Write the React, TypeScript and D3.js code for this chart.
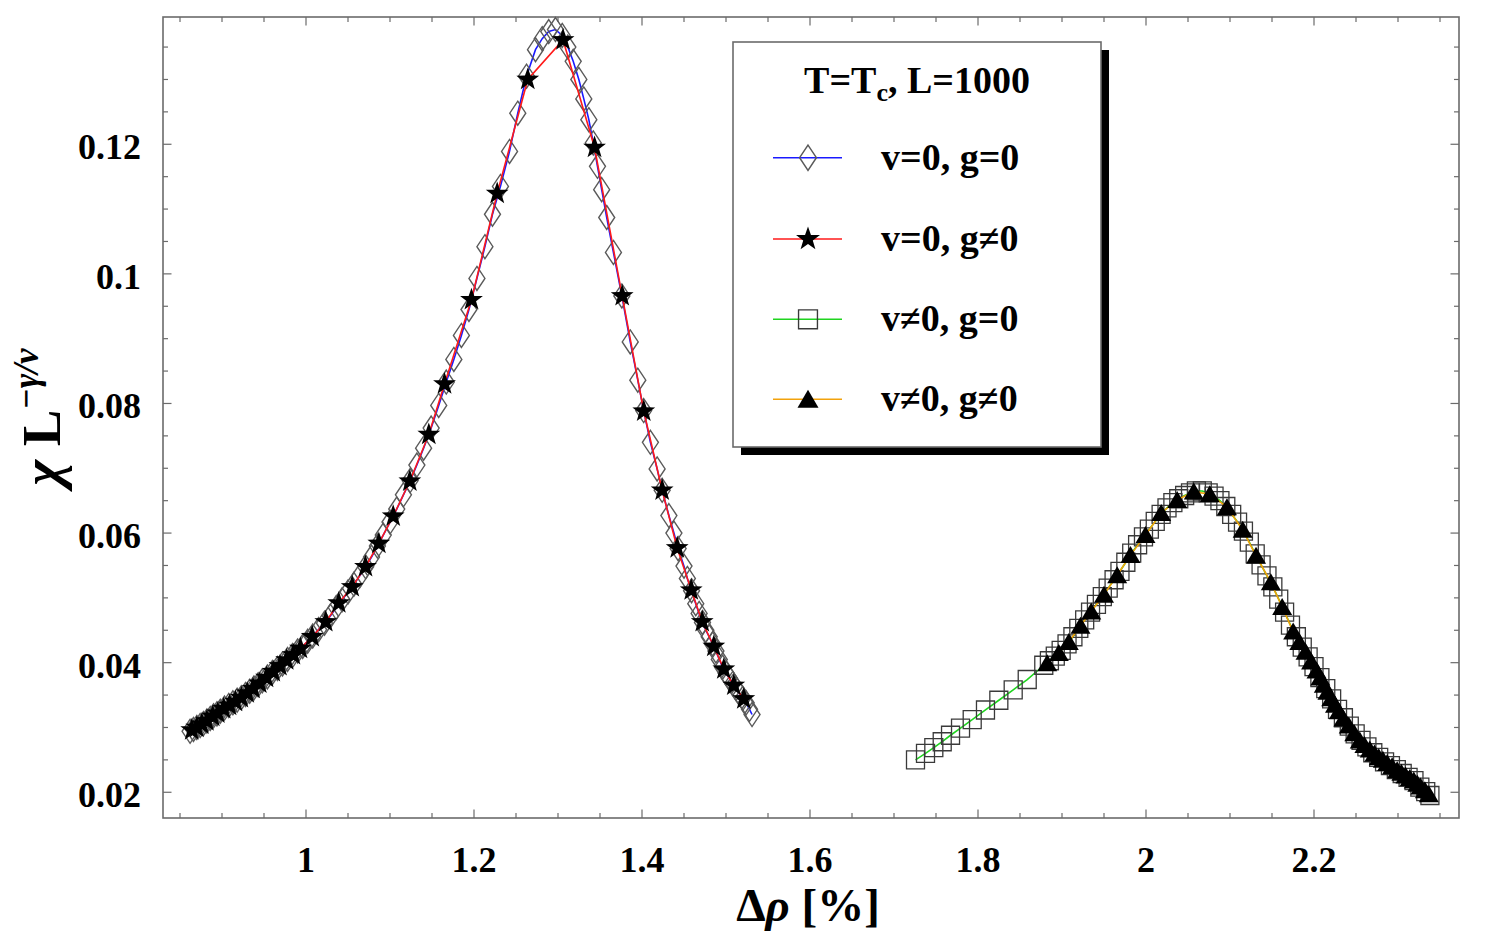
import React from 'react';
import * as d3 from 'd3';

const W = 1492;
const H = 935;
const plot = { left: 163, right: 1459, top: 17, bottom: 818 };
const FONT = '"Liberation Serif", "Times New Roman", serif';

// v=0, g=0 : open diamonds, blue line
const vZeroGZero: [number, number][] = [
  [0.862, 0.0294], [0.866, 0.0297], [0.870, 0.0300], [0.874, 0.0303], [0.878, 0.0306], [0.882, 0.0310],
  [0.886, 0.0314], [0.890, 0.0318], [0.894, 0.0321], [0.898, 0.0325], [0.903, 0.0330], [0.908, 0.0334],
  [0.913, 0.0338], [0.918, 0.0342], [0.923, 0.0346], [0.928, 0.0351], [0.933, 0.0356], [0.938, 0.0361],
  [0.943, 0.0366], [0.948, 0.0372], [0.954, 0.0378], [0.960, 0.0385], [0.966, 0.0391], [0.972, 0.0398],
  [0.978, 0.0405], [0.984, 0.0411], [0.990, 0.0418], [0.996, 0.0425], [1.002, 0.0433], [1.008, 0.0441],
  [1.015, 0.0451], [1.022, 0.0461], [1.029, 0.0472], [1.036, 0.0485], [1.043, 0.0497], [1.050, 0.0509],
  [1.057, 0.0521], [1.064, 0.0534], [1.071, 0.0548], [1.078, 0.0563], [1.085, 0.0580], [1.092, 0.0597],
  [1.100, 0.0617], [1.108, 0.0637], [1.116, 0.0659], [1.124, 0.0681], [1.132, 0.0705], [1.140, 0.0731],
  [1.149, 0.0762], [1.158, 0.0797], [1.167, 0.0833], [1.176, 0.0868], [1.185, 0.0905], [1.194, 0.0945],
  [1.2035, 0.0993], [1.213, 0.1042], [1.222, 0.1092], [1.2315, 0.1135], [1.2423, 0.1189], [1.2521, 0.1248],
  [1.2625, 0.1305], [1.2732, 0.1346], [1.2812, 0.1363], [1.289, 0.1374], [1.297, 0.1377], [1.305, 0.1368],
  [1.3117, 0.1350], [1.3181, 0.1328], [1.3248, 0.1300], [1.3307, 0.1270], [1.3367, 0.1238], [1.342, 0.1202],
  [1.347, 0.1166], [1.352, 0.1130], [1.358, 0.1087], [1.366, 0.1033], [1.376, 0.0966], [1.386, 0.0895],
  [1.395, 0.0836], [1.402, 0.0789], [1.410, 0.0740], [1.418, 0.0699], [1.424, 0.0666], [1.432, 0.0627],
  [1.438, 0.0600], [1.443, 0.0576], [1.450, 0.0549], [1.454, 0.0530], [1.459, 0.0511], [1.464, 0.0491],
  [1.468, 0.0476], [1.472, 0.0462], [1.476, 0.0450], [1.480, 0.0440], [1.484, 0.0429], [1.488, 0.0418],
  [1.492, 0.0405], [1.496, 0.0393], [1.500, 0.0384], [1.504, 0.0376], [1.508, 0.0368], [1.512, 0.0360],
  [1.516, 0.0352], [1.520, 0.0345], [1.524, 0.0338], [1.528, 0.0328], [1.531, 0.0320],
];

// v=0, g≠0 : filled stars, red line
const vZeroGNonZero: [number, number][] = [
  [0.864, 0.0296], [0.870, 0.0300], [0.876, 0.0305], [0.882, 0.0310], [0.889, 0.0317], [0.895, 0.0322],
  [0.902, 0.0329], [0.909, 0.0334], [0.916, 0.0340], [0.923, 0.0346], [0.930, 0.0353], [0.937, 0.0360],
  [0.945, 0.0368], [0.953, 0.0377], [0.961, 0.0386], [0.969, 0.0395], [0.977, 0.0404], [0.985, 0.0412],
  [0.9934, 0.0422], [1.0074, 0.0440], [1.0235, 0.0463], [1.039, 0.0492], [1.055, 0.0517], [1.0708, 0.0548],
  [1.0867, 0.0584], [1.1038, 0.0626], [1.1236, 0.0680], [1.1462, 0.0752], [1.1649, 0.0830], [1.197, 0.0960],
  [1.2276, 0.1124], [1.264, 0.1300], [1.306, 0.1361], [1.3435, 0.1195], [1.3764, 0.0966], [1.4021, 0.0788],
  [1.424, 0.0666], [1.4419, 0.0577], [1.4586, 0.0512], [1.4717, 0.0463], [1.4855, 0.0425], [1.4974, 0.0390],
  [1.5093, 0.0365], [1.5212, 0.0344],
];

// v≠0, g=0 : open squares, green line
const vNonZeroGZero: [number, number][] = [
  [1.7256, 0.0250], [1.7375, 0.0260], [1.7474, 0.0269], [1.7574, 0.0278], [1.7673, 0.0288], [1.7792, 0.0299],
  [1.7931, 0.0312], [1.8089, 0.0327], [1.8248, 0.0342], [1.8419, 0.0358], [1.8586, 0.0374], [1.8783, 0.0396],
  [1.885, 0.0403], [1.892, 0.0410], [1.899, 0.0419], [1.906, 0.0429], [1.913, 0.0440], [1.920, 0.0453],
  [1.927, 0.0466], [1.934, 0.0478], [1.941, 0.0490], [1.948, 0.0502], [1.955, 0.0515], [1.962, 0.0528],
  [1.969, 0.0541], [1.976, 0.0555], [1.983, 0.0569], [1.990, 0.0582], [1.997, 0.0594], [2.004, 0.0606],
  [2.011, 0.0618], [2.018, 0.0629], [2.025, 0.0639], [2.032, 0.0647], [2.039, 0.0653], [2.046, 0.0658],
  [2.053, 0.0662], [2.060, 0.0665], [2.067, 0.0665], [2.074, 0.0662], [2.081, 0.0657], [2.088, 0.0650],
  [2.095, 0.0641], [2.102, 0.0629], [2.109, 0.0617], [2.116, 0.0603], [2.123, 0.0586], [2.130, 0.0568],
  [2.137, 0.0551], [2.144, 0.0534], [2.151, 0.0517], [2.158, 0.0498], [2.165, 0.0478], [2.172, 0.0458],
  [2.179, 0.0440], [2.186, 0.0424], [2.193, 0.0409], [2.200, 0.0394], [2.207, 0.0377], [2.214, 0.0360],
  [2.221, 0.0344], [2.228, 0.0328], [2.235, 0.0315], [2.242, 0.0302], [2.249, 0.0290], [2.256, 0.0280],
  [2.263, 0.0270], [2.270, 0.0261], [2.277, 0.0254], [2.284, 0.0247], [2.291, 0.0241], [2.298, 0.0235],
  [2.305, 0.0229], [2.312, 0.0223], [2.319, 0.0218], [2.326, 0.0208], [2.333, 0.0201], [2.338, 0.0195],
];

// v≠0, g≠0 : filled triangles, orange line
const vNonZeroGNonZero: [number, number][] = [
  [1.8824, 0.0399], [1.8962, 0.0415], [1.9081, 0.0432], [1.9220, 0.0457], [1.9348, 0.0479], [1.9500, 0.0505],
  [1.9657, 0.0535], [1.9815, 0.0566], [1.9994, 0.0597], [2.0181, 0.0631], [2.0371, 0.0651], [2.0569, 0.0664],
  [2.0759, 0.0660], [2.0964, 0.0640], [2.1151, 0.0605], [2.1310, 0.0565], [2.1486, 0.0524], [2.1621, 0.0486],
  [2.1752, 0.0448], [2.1825, 0.0432], [2.1899, 0.0417], [2.1965, 0.0402], [2.2030, 0.0388], [2.2075, 0.0377],
  [2.2117, 0.0366], [2.2160, 0.0355], [2.2205, 0.0345], [2.2250, 0.0335], [2.2295, 0.0325], [2.2350, 0.0314],
  [2.2414, 0.0303], [2.2480, 0.0291], [2.2545, 0.0280], [2.2600, 0.0273], [2.2664, 0.0266], [2.2720, 0.0260],
  [2.2771, 0.0254], [2.2820, 0.0250], [2.2871, 0.0245], [2.2930, 0.0240], [2.2990, 0.0234], [2.3040, 0.0230],
  [2.3089, 0.0226], [2.3140, 0.0222], [2.3188, 0.0218], [2.3230, 0.0213], [2.3268, 0.0209], [2.3320, 0.0203],
  [2.3367, 0.0197],
];

const xTicks = [1, 1.2, 1.4, 1.6, 1.8, 2, 2.2];
const xTickLabels = ['1', '1.2', '1.4', '1.6', '1.8', '2', '2.2'];
const yTicks = [0.02, 0.04, 0.06, 0.08, 0.1, 0.12];
const yTickLabels = ['0.02', '0.04', '0.06', '0.08', '0.1', '0.12'];
const legendLabels = ['v=0, g=0', 'v=0, g≠0', 'v≠0, g=0', 'v≠0, g≠0'];
const lineColors = ['#1a1aff', '#ff1a1a', '#1fd41f', '#f2a20c'];

const xScale = d3.scaleLinear().domain([0.82976, 2.37262]).range([plot.left, plot.right]);
const yScale = d3.scaleLinear().domain([0.01603, 0.13964]).range([plot.bottom, plot.top]);

const line = d3.line<[number, number]>()
  .x(d => xScale(d[0]))
  .y(d => yScale(d[1]));

// marker shapes, centred on 0,0
const diamondPath = 'M0,-12L8,0L0,12L-8,0Z';
const squarePath = 'M-9,-9h18v18h-18Z';
const trianglePath = 'M0,-9L10,8L-10,8Z';
const starPath = (() => {
  const pts = d3.range(10).map(i => {
    const r = i % 2 === 0 ? 12 : 4.8;
    const a = -Math.PI / 2 + (i * Math.PI) / 5;
    return [r * Math.cos(a), r * Math.sin(a)];
  });
  return 'M' + pts.map(p => p.map(v => v.toFixed(2)).join(',')).join('L') + 'Z';
})();

const markers = [
  { d: diamondPath, fill: 'none', stroke: '#5a5a5a', sw: 1.4 },
  { d: starPath, fill: '#000', stroke: 'none', sw: 0 },
  { d: squarePath, fill: 'none', stroke: '#3a3a3a', sw: 1.3 },
  { d: trianglePath, fill: '#000', stroke: 'none', sw: 0 },
];

const series = [vZeroGZero, vZeroGNonZero, vNonZeroGZero, vNonZeroGNonZero];

export default function App() {
  const axisColor = '#6b6b6b';
  const xMinor = d3.range(0.85, 2.371, 0.05);
  const yMinor = d3.range(0.02, 0.1396, 0.005);
  const isMajorX = (v: number) => xTicks.some(t => Math.abs(t - v) < 1e-6);
  const isMajorY = (v: number) => yTicks.some(t => Math.abs(t - v) < 1e-6);

  const rows = [157.7, 239, 319.3, 399.3];

  return (
    <div style={{ position: 'absolute', left: 0, top: 0 }}>
      <svg width={W} height={H} style={{ display: 'block', background: '#fff' }} fontFamily={FONT}>
        {/* frame */}
        <rect x={plot.left} y={plot.top} width={plot.right - plot.left} height={plot.bottom - plot.top}
          fill="none" stroke={axisColor} strokeWidth={1.6} />

        {/* ticks on all four sides, pointing inward */}
        {xMinor.map((v, i) => {
          const x = xScale(v);
          const len = isMajorX(v) ? 8.5 : 5;
          return (
            <g key={'xt' + i} stroke={axisColor} strokeWidth={1.2}>
              <line x1={x} x2={x} y1={plot.bottom} y2={plot.bottom - len} />
              <line x1={x} x2={x} y1={plot.top} y2={plot.top + len} />
            </g>
          );
        })}
        {yMinor.map((v, i) => {
          const y = yScale(v);
          const len = isMajorY(v) ? 8.5 : 5;
          return (
            <g key={'yt' + i} stroke={axisColor} strokeWidth={1.2}>
              <line x1={plot.left} x2={plot.left + len} y1={y} y2={y} />
              <line x1={plot.right} x2={plot.right - len} y1={y} y2={y} />
            </g>
          );
        })}

        {/* tick labels */}
        {xTicks.map((v, i) => (
          <text key={'xl' + i} x={xScale(v)} y={872} textAnchor="middle" fontSize={36} fontWeight="bold">
            {xTickLabels[i]}
          </text>
        ))}
        {yTicks.map((v, i) => (
          <text key={'yl' + i} x={141} y={yScale(v) + 15} textAnchor="end" fontSize={36} fontWeight="bold">
            {yTickLabels[i]}
          </text>
        ))}

        {/* axis titles */}
        <text x={808} y={921} textAnchor="middle" fontSize={47} fontWeight="bold">
          Δ<tspan fontStyle="italic">ρ</tspan> [%]
        </text>
        <text transform="translate(60,417) rotate(-90)" textAnchor="middle" fontSize={55} fontWeight="bold">
          <tspan fontStyle="italic">χ</tspan> L<tspan dy={-22} fontSize={35} fontStyle="italic">−γ/ν</tspan>
        </text>

        {/* series: line then markers */}
        {series.map((data, si) => (
          <g key={'s' + si}>
            <path d={line(data) ?? ''} fill="none" stroke={lineColors[si]} strokeWidth={1.6} />
            {data.map((d, i) => (
              <path key={i} d={markers[si].d} transform={`translate(${xScale(d[0])},${yScale(d[1])})`}
                fill={markers[si].fill} stroke={markers[si].stroke} strokeWidth={markers[si].sw} />
            ))}
          </g>
        ))}

        {/* legend */}
        <rect x={741} y={50} width={368} height={405} fill="#000" />
        <rect x={733} y={42} width={368} height={405} fill="#fff" stroke={axisColor} strokeWidth={1.6} />
        <text x={917} y={93} textAnchor="middle" fontSize={38} fontWeight="bold">
          T=T<tspan dy={8} fontSize={26}>c</tspan><tspan dy={-8}>, L=1000</tspan>
        </text>
        {legendLabels.map((label, i) => (
          <g key={'lg' + i}>
            <line x1={773} x2={842} y1={rows[i]} y2={rows[i]} stroke={lineColors[i]} strokeWidth={1.6} />
            <path d={markers[i].d} transform={`translate(808,${rows[i]}) scale(1.05)`}
              fill={markers[i].fill} stroke={markers[i].stroke} strokeWidth={markers[i].sw} />
            <text x={881} y={rows[i] + 12} fontSize={38} fontWeight="bold">{label}</text>
          </g>
        ))}
      </svg>
    </div>
  );
}
